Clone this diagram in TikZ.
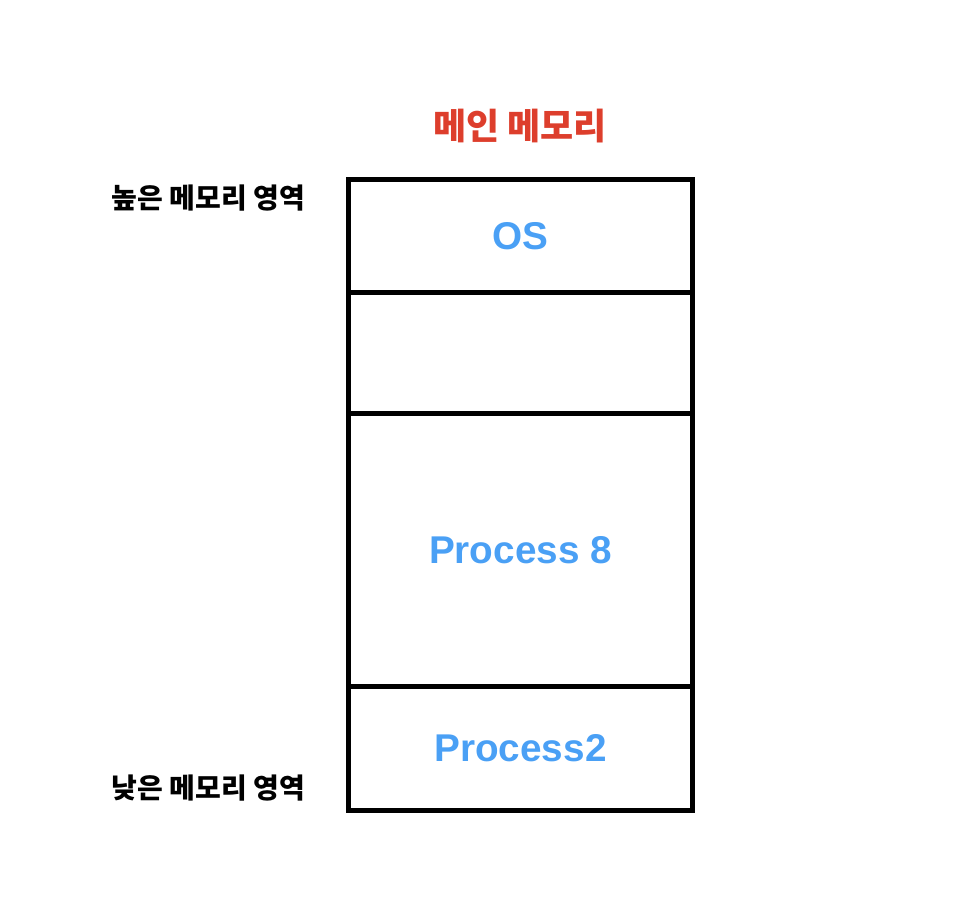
\documentclass[tikz,border=0pt]{standalone}
\usepackage{fontspec}
\setmainfont{Liberation Sans}
\newfontfamily\kr{Noto Sans CJK KR}
\definecolor{titlered}{RGB}{221,62,44}
\definecolor{procblue}{RGB}{74,160,245}
\begin{document}
\begin{tikzpicture}[x=1pt,y=1pt,
  seg/.style={draw=black,line width=5pt,minimum width=344pt,inner sep=0pt,
    font=\fontsize{38.7}{40}\selectfont\bfseries,text=procblue},
  sidelabel/.style={anchor=east,inner sep=0pt,font=\kr\fontsize{28}{30}\selectfont\bfseries},
  titlelabel/.style={inner sep=0pt,text=titlered,font=\kr\fontsize{36}{38}\selectfont\bfseries}]
\useasboundingbox (0,0) rectangle (972,912);
\node[titlelabel] (title) at (520,786) {메인 메모리};
\node[seg,minimum height=113pt] (os) at (520.5,676) {OS};
\node[seg,minimum height=121.5pt] (free) at (520.5,558.75) {};
\node[seg,minimum height=272.5pt] (p8) at (520.5,361.75) {Process 8};
\node[seg,minimum height=124pt] (p2) at (520.5,163.5) {Process2};
\node[sidelabel] (high) at (305,714) {높은 메모리 영역};
\node[sidelabel] (low) at (305,124) {낮은 메모리 영역};
\end{tikzpicture}
\end{document}
